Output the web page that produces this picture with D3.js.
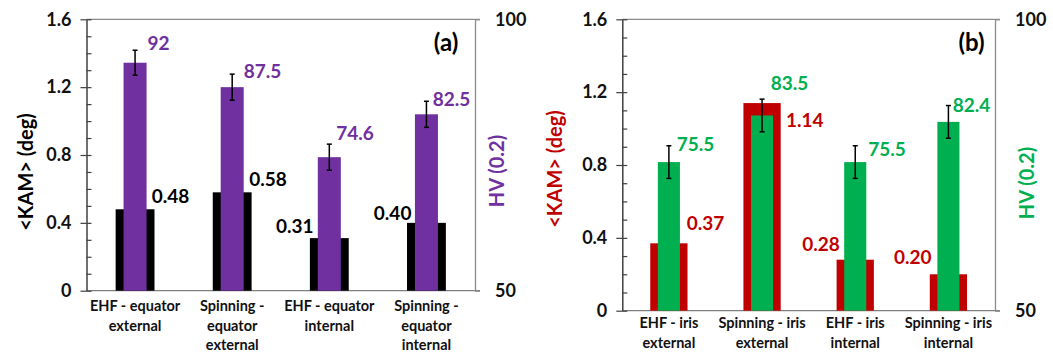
<!DOCTYPE html>
<html>
<head>
<meta charset="utf-8">
<script src="https://cdn.jsdelivr.net/npm/d3@7"></script>
<style>
  html, body { margin: 0; padding: 0; background: #fff; }
  svg { display: block; font-family: Lato, "Open Sans", sans-serif; font-weight: bold; }
</style>
</head>
<body>
<svg id="chart" width="1053" height="352"></svg>
<script>
// ---------------- data ----------------
const categoriesA = [["EHF - equator", "external"], ["Spinning -", "equator", "external"], ["EHF - equator", "internal"], ["Spinning -", "equator", "internal"]];
const kamA = [0.48, 0.58, 0.31, 0.40];
const hvA = [92, 87.5, 74.6, 82.5];
const hvErrA = [2.3, 2.4, 2.4, 2.4];

const categoriesB = [["EHF - iris", "external"], ["Spinning - iris", "external"], ["EHF - iris", "internal"], ["Spinning - iris", "internal"]];
const kamB = [0.37, 1.14, 0.28, 0.20];
const hvB = [75.5, 83.5, 75.5, 82.4];
const hvErrB = [2.8, 2.8, 2.8, 2.8];

const kamTicks = [0, 0.4, 0.8, 1.2, 1.6];
const kamMinorTicks = d3.range(0, 17).map(i => i / 10);
const hvTicks = [50, 100];
const kamDomain = [0, 1.6];
const hvDomain = [50, 100];

// ---------------- layout (label nudges, px) ----------------
const layoutA = {
  left: 86.5, right: 475, top: 19.3, bottom: 290.7,
  outerColor: "#000000", innerColor: "#7030A0",
  kamTitleColor: "#000000", kamLabelColor: "#000000",
  panelLabel: "(a)", panelLabelPos: [446, 43],
  leftTitlePos: [25.5, 172], rightTitlePos: [497, 171],
  catLineY: 306, catLineH: 19.5,
  hvLabDx: [1, 0, -4.6, -5.3], hvLabDy: [-19.5, -16.3, -24.3, -15.4],
  kamLabAnchor: ["start", "start", "end", "end"],
  kamLabDx: [-2.7, -2.4, 3.7, 4.4], kamLabDy: [-12.6, -13.3, -11.4, -9.6]
};
const layoutB = {
  left: 622.3, right: 995, top: 19.3, bottom: 310.7,
  outerColor: "#C00000", innerColor: "#00B050",
  kamTitleColor: "#C00000", kamLabelColor: "#C00000",
  panelLabel: "(b)", panelLabelPos: [971.5, 43],
  leftTitlePos: [555, 169], rightTitlePos: [1027, 183],
  catLineY: 323.3, catLineH: 20,
  hvLabDx: [-3.2, -2.4, 2, -6.8], hvLabDy: [-18, -32, -13, -16.5],
  kamLabAnchor: ["start", "start", "end", "end"],
  kamLabDx: [-0.8, 5.3, 3.3, 1.8], kamLabDy: [-20, 17, -15.4, -17]
};

const svg = d3.select("#chart");
const fmtKam = d3.format(".2f");
const fmtHv = v => String(v);

function drawPanel(cats, kam, hv, hvErr, L) {
  const g = svg.append("g");
  const keys = cats.map(c => c.join(" "));
  const x = d3.scaleBand().domain(keys).range([L.left, L.right]).padding(0);
  const yK = d3.scaleLinear().domain(kamDomain).range([L.bottom, L.top]);
  const yH = d3.scaleLinear().domain(hvDomain).range([L.bottom, L.top]);
  const step = x.step();
  const outerW = step * 0.4, innerW = step * 0.237;
  const cx = i => x(keys[i]) + x.bandwidth() / 2;

  // frame: top, bottom (gray)
  g.append("line").attr("x1", L.left).attr("x2", L.right + 5).attr("y1", L.top).attr("y2", L.top)
    .attr("stroke", "#8c8c8c").attr("stroke-width", 1.3);
  g.append("line").attr("x1", L.left).attr("x2", L.right + 5).attr("y1", L.bottom).attr("y2", L.bottom)
    .attr("stroke", "#7f7f7f").attr("stroke-width", 1.3);

  // bars
  const idx = d3.range(keys.length);
  g.selectAll("rect.outer").data(idx).join("rect").attr("class", "outer")
    .attr("x", i => cx(i) - outerW / 2).attr("width", outerW)
    .attr("y", i => yK(kam[i])).attr("height", i => L.bottom - yK(kam[i]))
    .attr("fill", L.outerColor);
  g.selectAll("rect.inner").data(idx).join("rect").attr("class", "inner")
    .attr("x", i => cx(i) - innerW / 2).attr("width", innerW)
    .attr("y", i => yH(hv[i])).attr("height", i => L.bottom - yH(hv[i]))
    .attr("fill", L.innerColor);

  // error bars
  const eb = g.selectAll("g.err").data(idx).join("g").attr("class", "err")
    .attr("stroke", "#000").attr("stroke-width", 1.5);
  eb.append("line").attr("x1", cx).attr("x2", cx)
    .attr("y1", i => yH(hv[i] - hvErr[i])).attr("y2", i => yH(hv[i] + hvErr[i]));
  eb.append("line").attr("x1", i => cx(i) - 2.5).attr("x2", i => cx(i) + 2.5)
    .attr("y1", i => yH(hv[i] + hvErr[i])).attr("y2", i => yH(hv[i] + hvErr[i]));
  eb.append("line").attr("x1", i => cx(i) - 2.5).attr("x2", i => cx(i) + 2.5)
    .attr("y1", i => yH(hv[i] - hvErr[i])).attr("y2", i => yH(hv[i] - hvErr[i]));

  // left axis (major ticks outside with labels)
  const axL = g.append("g").attr("transform", `translate(${L.left},0)`)
    .call(d3.axisLeft(yK).tickValues(kamTicks).tickFormat(d => d === 0 ? "0" : d3.format(".1f")(d))
      .tickSize(6).tickSizeOuter(0).tickPadding(9));
  axL.select(".domain").attr("stroke", "#404040").attr("stroke-width", 1.5);
  axL.selectAll(".tick line").attr("stroke", "#404040").attr("stroke-width", 1.2);
  axL.selectAll(".tick text").attr("font-size", 18).attr("font-family", "Lato").attr("font-weight", "bold").attr("fill", "#111");
  // inside minor ticks
  const axLm = g.append("g").attr("transform", `translate(${L.left},0)`)
    .call(d3.axisLeft(yK).tickValues(kamMinorTicks).tickSize(-5).tickFormat(""));
  axLm.select(".domain").remove();
  axLm.selectAll(".tick line").attr("stroke", "#404040").attr("stroke-width", 1.2);

  // right axis
  const axR = g.append("g").attr("transform", `translate(${L.right},0)`)
    .call(d3.axisRight(yH).tickValues(hvTicks).tickSize(5).tickSizeOuter(0).tickPadding(15));
  axR.select(".domain").attr("stroke", "#8c8c8c").attr("stroke-width", 1.3);
  axR.selectAll(".tick line").attr("stroke", "#8c8c8c").attr("stroke-width", 1.3);
  axR.selectAll(".tick text").attr("font-size", 18).attr("font-family", "Lato").attr("font-weight", "bold").attr("fill", "#111");

  // category labels
  const cl = g.selectAll("text.cat").data(idx).join("text").attr("class", "cat")
    .attr("text-anchor", "middle").attr("font-size", 14.5).attr("fill", "#111");
  cl.each(function (i) {
    const t = d3.select(this);
    cats[i].forEach((line, k) => {
      t.append("tspan").attr("x", cx(i)).attr("y", L.catLineY + k * L.catLineH).attr("dy", "0.35em").text(line);
    });
  });

  // HV value labels
  g.selectAll("text.hvlab").data(idx).join("text").attr("class", "hvlab")
    .attr("x", i => cx(i) + innerW / 2 + L.hvLabDx[i])
    .attr("y", i => yH(hv[i]) + L.hvLabDy[i]).attr("dy", "0.35em")
    .attr("font-size", 19).attr("fill", L.innerColor).text(i => fmtHv(hv[i]));

  // KAM value labels
  g.selectAll("text.kamlab").data(idx).join("text").attr("class", "kamlab")
    .attr("text-anchor", i => L.kamLabAnchor[i])
    .attr("x", i => (L.kamLabAnchor[i] === "start" ? cx(i) + outerW / 2 : cx(i) - outerW / 2) + L.kamLabDx[i])
    .attr("y", i => yK(kam[i]) + L.kamLabDy[i]).attr("dy", "0.35em")
    .attr("font-size", 19).attr("fill", L.kamLabelColor).text(i => fmtKam(kam[i]));

  // panel label
  g.append("text").attr("x", L.panelLabelPos[0]).attr("y", L.panelLabelPos[1]).attr("dy", "0.35em")
    .attr("text-anchor", "middle").attr("font-size", 24).attr("fill", "#000").text(L.panelLabel);

  // axis titles
  g.append("text").attr("transform", `translate(${L.leftTitlePos[0]},${L.leftTitlePos[1]}) rotate(-90)`)
    .attr("text-anchor", "middle").attr("dy", "0.35em").attr("font-size", 20)
    .attr("fill", L.kamTitleColor).text("<KAM> (deg)");
  g.append("text").attr("transform", `translate(${L.rightTitlePos[0]},${L.rightTitlePos[1]}) rotate(-90)`)
    .attr("text-anchor", "middle").attr("dy", "0.35em").attr("font-size", 20)
    .attr("fill", L.innerColor).text("HV (0.2)");
}

drawPanel(categoriesA, kamA, hvA, hvErrA, layoutA);
drawPanel(categoriesB, kamB, hvB, hvErrB, layoutB);
</script>
</body>
</html>
